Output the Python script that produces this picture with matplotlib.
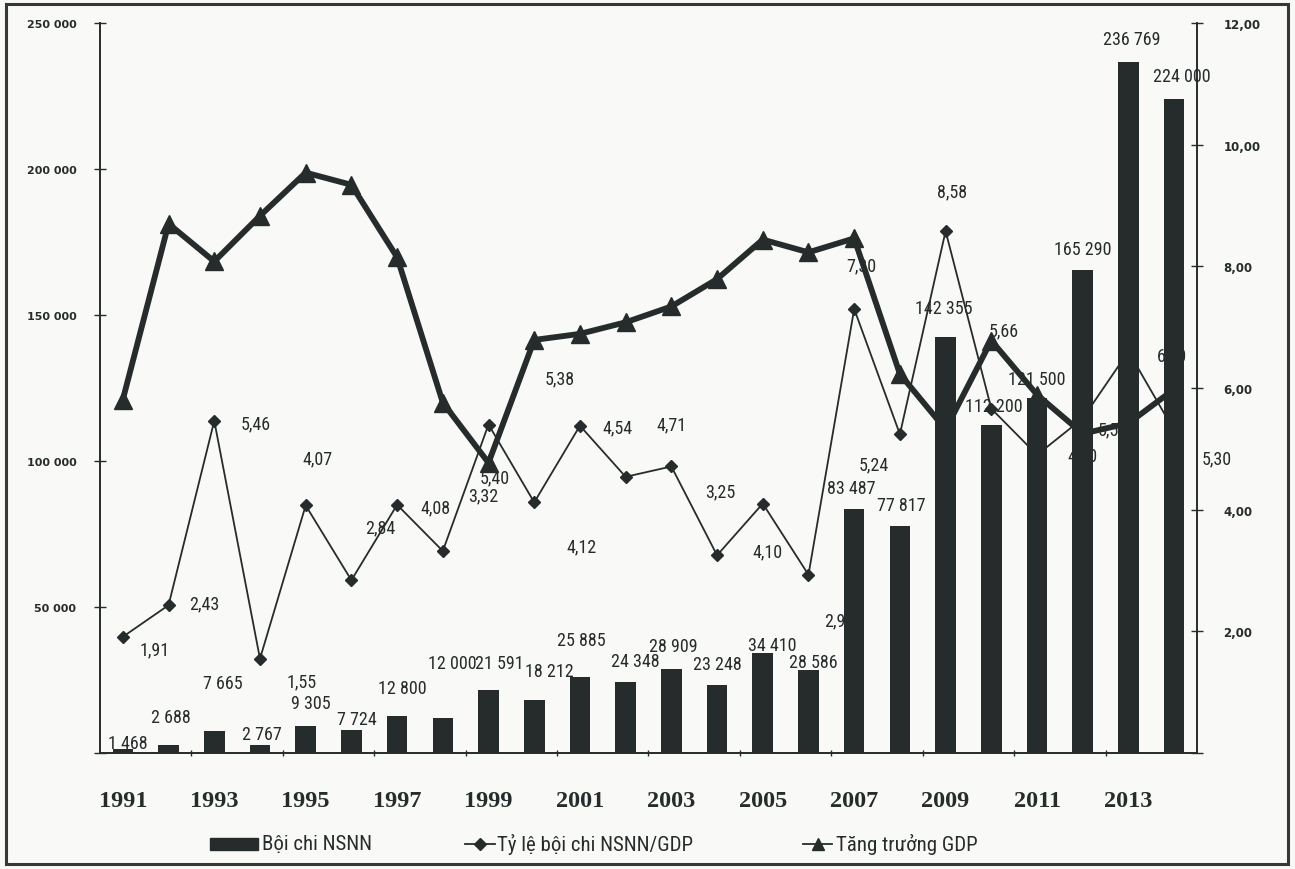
import matplotlib
matplotlib.use("Agg")
import matplotlib.pyplot as plt
from matplotlib import font_manager
from matplotlib.font_manager import FontProperties
from matplotlib.ticker import FuncFormatter, FixedLocator
from matplotlib.lines import Line2D
from matplotlib.patches import Rectangle
import numpy as np

# ---- data ---------------------------------------------------------------
years = list(range(1991, 2015))
deficit = [1468, 2688, 7665, 2767, 9305, 7724, 12800, 12000, 21591, 18212,
           25885, 24348, 28909, 23248, 34410, 28586, 83487, 77817, 142355,
           112200, 121500, 165290, 236769, 224000]
deficit_ratio = [1.91, 2.43, 5.46, 1.55, 4.07, 2.84, 4.08, 3.32, 5.40, 4.12,
                 5.38, 4.54, 4.71, 3.25, 4.10, 2.93, 7.30, 5.24, 8.58, 5.66,
                 4.90, 5.50, 6.60, 5.30]
gdp_growth = [5.81, 8.70, 8.08, 8.83, 9.54, 9.34, 8.15, 5.76, 4.77, 6.79,
              6.89, 7.08, 7.34, 7.79, 8.44, 8.23, 8.46, 6.23, 5.32, 6.78,
              5.89, 5.25, 5.42, 5.98]
series_names = ["Bội chi NSNN", "Tỷ lệ bội chi NSNN/GDP", "Tăng trưởng GDP"]

# label offsets (pixels) relative to each mark
bar_label_off = [(5, -3), (2, 19), (9, 39), (2, 2), (5, 14), (5, 2), (5, 19),
                 (9, 46), (11, 18), (15, 20), (1, 28), (10, 12), (2, 14),
                 (0, 12), (9, -1), (5, -1), (-3, 12), (1, 12), (-2, 20),
                 (3, 10), (0, 10), (0, 12), (3, 14), (8, 14)]
ratio_label_off = [(32, -13), (36, 2), (41, -3), (42, -23), (12, 47), (29, 53),
                   (38, -3), (40, 56), (6, -53), (47, -44), (-20, 47),
                   (-8, 49), (0, 42), (3, 64), (5, -48), (31, -46), (7, 44),
                   (-26, -30), (6, 40), (12, 78), (45, 0), (30, -11),
                   (43, -4), (43, -28)]

INK = "#262c2b"
BG = "#f9faf7"

# an upright condensed sans for the value labels when one is installed
candidates = []
for f in font_manager.fontManager.ttflist:
    nm = f.name.lower()
    path = f.fname.lower()
    if (("narrow" in nm or "condensed" in nm or "condensed" in path)
            and f.style == "normal"
            and f.weight in (400, "normal", "regular")
            and "italic" not in path and "oblique" not in path):
        candidates.append(f)
preferred = ["liberation sans narrow", "arial narrow", "roboto condensed",
             "dejavu sans condensed"]
candidates.sort(key=lambda f: preferred.index(f.name.lower())
                if f.name.lower() in preferred else len(preferred))
if candidates:
    VAL_FONT = FontProperties(fname=candidates[0].fname, size=13)
    cname = candidates[0].name
    if "condensed" in cname.lower() or "narrow" in cname.lower():
        LEG_FONT = dict(family=[cname, "DejaVu Sans"], fontsize=15)
    else:
        LEG_FONT = dict(family=["Liberation Sans", "DejaVu Sans"], fontsize=12.5)
else:
    VAL_FONT = FontProperties(family="Liberation Sans", size=10.5)
    LEG_FONT = dict(family=["Liberation Sans", "DejaVu Sans"], fontsize=12.5)

fig = plt.figure(figsize=(12.95, 8.70), dpi=100, facecolor=BG)
ax = fig.add_axes([100 / 1295, 116 / 870, 1097 / 1295, 730 / 870])
ax.set_facecolor("none")
ax2 = ax.twinx()

x = np.arange(len(years))

# bars: budget deficit (left axis)
ax.bar(x, deficit, width=0.45, color=INK, zorder=2)
ax.set_xlim(-0.5, len(years) - 0.5)
ax.set_ylim(0, 250000)


def thousands(v, _):
    if v == 0:
        return ""
    return f"{int(v):,}".replace(",", " ")


ax.yaxis.set_major_locator(FixedLocator(np.arange(0, 250001, 50000)))
ax.yaxis.set_major_formatter(FuncFormatter(thousands))
ax.tick_params(axis="y", direction="inout", length=8, width=1, color=INK,
               labelsize=8, pad=13, labelcolor=INK)
for t in ax.get_yticklabels():
    t.set_fontweight("bold")
    t.set_family("DejaVu Sans")

# x axis: odd year labels under the bars, small ticks between pairs
ax.set_xticks(x[::2])
ax.set_xticklabels([str(y) for y in years[::2]])
ax.tick_params(axis="x", length=0, pad=27, labelsize=17.5, labelcolor=INK)
for t in ax.get_xticklabels():
    t.set_family("Liberation Serif")
    t.set_fontweight("bold")
ax.set_xticks(np.arange(1.5, len(years) - 1, 2), minor=True)
ax.tick_params(axis="x", which="minor", direction="inout", length=5,
               width=1, color=INK)

ax.spines["top"].set_visible(False)
ax.spines["right"].set_visible(False)
ax2.spines["top"].set_visible(False)
for side in ("left", "bottom"):
    ax.spines[side].set_color(INK)
    ax.spines[side].set_linewidth(1.4)
    ax2.spines[side].set_visible(False)
ax2.spines["right"].set_color(INK)
ax2.spines["right"].set_linewidth(1.4)

for xi, v, (dx, dy) in zip(x, deficit, bar_label_off):
    ax.annotate(f"{v:,}".replace(",", " "), (xi, v), xytext=(dx, dy),
                textcoords="offset pixels", ha="center", va="bottom",
                fontproperties=VAL_FONT, color=INK, zorder=3)

# lines on the right axis
ax2.set_ylim(0, 12)
ax2.yaxis.set_major_locator(FixedLocator(np.arange(0, 12.01, 2)))
ax2.yaxis.set_major_formatter(
    FuncFormatter(lambda v, _: "" if v == 0 else f"{v:.2f}".replace(".", ",")))
ax2.tick_params(axis="y", direction="inout", length=8, width=1, color=INK,
                labelsize=8.5, pad=15, labelcolor=INK)
for t in ax2.get_yticklabels():
    t.set_fontweight("bold")
    t.set_family("DejaVu Sans")

ax2.plot(x, deficit_ratio, color=INK, lw=1.3, marker="D", ms=6.5, zorder=3)
ax2.plot(x, gdp_growth, color=INK, lw=4.2, marker="^", ms=13, zorder=4)

for xi, v, (dx, dy) in zip(x, deficit_ratio, ratio_label_off):
    ax2.annotate(f"{v:.2f}".replace(".", ","), (xi, v), xytext=(dx, dy),
                 textcoords="offset pixels", ha="center", va="center",
                 fontproperties=VAL_FONT, color=INK, zorder=2)

# legend row along the bottom
W, H = 1295.0, 870.0
ly = 1 - 845 / H
fig.patches.append(Rectangle((210 / W, ly - 6 / H), 48 / W, 12 / H,
                             transform=fig.transFigure, color=INK))
fig.add_artist(Line2D([465 / W, 495 / W], [ly, ly], color=INK, lw=1.3,
                      transform=fig.transFigure))
fig.add_artist(Line2D([480 / W], [ly], color=INK, marker="D", ms=6,
                      transform=fig.transFigure))
fig.add_artist(Line2D([803 / W, 832 / W], [ly, ly], color=INK, lw=1.3,
                      transform=fig.transFigure))
fig.add_artist(Line2D([818 / W], [ly], color=INK, marker="^", ms=8,
                      transform=fig.transFigure))
for name, tx in zip(series_names, (262, 497, 836)):
    fig.text(tx / W, ly, name, ha="left", va="center", color=INK, **LEG_FONT)

# outer frame
fig.patches.append(Rectangle((6 / W, 5 / H), 1282 / W, 860 / H,
                             transform=fig.transFigure, fill=False,
                             edgecolor="#333838", lw=2.2))

fig.savefig("out.png", dpi=100, facecolor=BG)
